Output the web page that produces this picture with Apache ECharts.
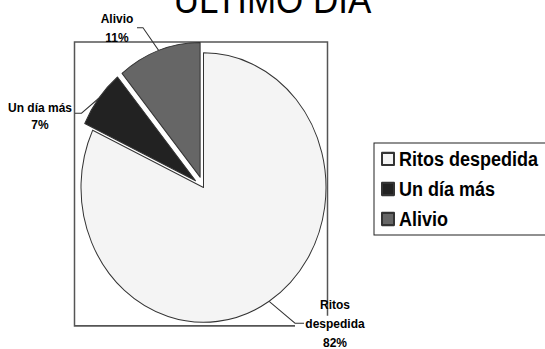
<!DOCTYPE html>
<html><head><meta charset="utf-8">
<script src="https://cdn.jsdelivr.net/npm/echarts@6/dist/echarts.min.js"></script>
<style>
html,body{margin:0;padding:0;background:#fff;overflow:hidden}
#wrap{width:545px;height:349px;overflow:hidden;position:relative;background:#fff}
#c{width:545px;height:317.27px;transform:scaleY(1.1);transform-origin:0 0}
</style></head><body><div id="wrap"><div id="c"></div></div>
<script>
// ---- data ----
const chartTitle = 'ÚLTIMO DÍA';
const categories = ['Ritos despedida', 'Un día más', 'Alivio'];
const labelNames = ['Ritos\ndespedida', 'Un día más', 'Alivio'];
const values = [82, 7, 11];
const exploded = [false, true, true];

// ---- styling / layout ----
const FONT = "'Liberation Sans', Arial, Helvetica, sans-serif";
const sliceColors = ['#f4f4f4', '#222222', '#666666'];
const PIE_CENTER = [203.5, 170.5];
const PIE_RADIUS = 122.5;
const EXPLODE = 10;
const LABEL_LAYOUT = [
  { x: 335, y: 294.5, elbow: [295, 293.9], end: [304, 293.9], lh: 17 },
  { x: 40, y: 105.7, elbow: [81.5, 103], end: [75, 103], lh: 16 },
  { x: 117, y: 25.8, elbow: [143, 25.2], end: [137, 25.2], lh: 16.5 }
];

const chart = echarts.init(document.getElementById('c'), null, { renderer: 'svg' });
chart.setOption({
  animation: false,
  backgroundColor: '#fff',
  title: {
    text: chartTitle, left: 'center', top: -18, padding: 0,
    textStyle: { fontFamily: FONT, fontSize: 35, fontWeight: 'normal', color: '#000' }
  },
  legend: {
    orient: 'vertical', left: 374, top: 130,
    borderColor: '#222', borderWidth: 1, padding: [5.5, 30, 5.5, 7],
    itemWidth: 12, itemHeight: 11, itemGap: 9.3, icon: 'rect',
    textStyle: { fontFamily: FONT, fontSize: 18, fontWeight: 'bold', color: '#000', lineHeight: 18 },
    data: categories
  },
  graphic: [{
    type: 'polyline', z: 0, silent: true,
    shape: { points: [[327.5, 287], [327.5, 38.2], [74.5, 38.2], [74.5, 296.2], [295, 296.2]] },
    style: { stroke: '#555', lineWidth: 1.5, fill: null }
  }],
  series: [{
    type: 'pie', center: PIE_CENTER, radius: PIE_RADIUS, startAngle: 90, clockwise: true,
    selectedMode: 'multiple', selectedOffset: EXPLODE, avoidLabelOverlap: false,
    silent: true,
    itemStyle: { borderColor: '#333', borderWidth: 1 },
    label: {
      show: true, position: 'outside', fontFamily: FONT, fontSize: 12, fontWeight: 'bold',
      color: '#000', align: 'center',
      formatter: p => labelNames[p.dataIndex] + '\n' + p.percent + '%'
    },
    labelLine: { show: true, length: 10, length2: 10, lineStyle: { color: '#333', width: 1 } },
    labelLayout: function (params) {
      const i = params.dataIndex;
      const L = LABEL_LAYOUT[i];
      const r = params.labelRect;
      const pts = params.labelLinePoints;
      let ox = 0, oy = 0;
      if (exploded[i] && pts && pts.length) {
        const vx = pts[0][0] - PIE_CENTER[0], vy = pts[0][1] - PIE_CENTER[1];
        const len = Math.sqrt(vx * vx + vy * vy) || 1;
        ox = EXPLODE * vx / len; oy = EXPLODE * vy / len;
      }
      const anchorX = params.align === 'left' ? r.x
        : params.align === 'right' ? r.x + r.width : r.x + r.width / 2;
      const res = {
        align: 'center',
        dx: L.x - anchorX - ox,
        dy: L.y - (r.y + r.height / 2) - oy
      };
      if (pts && pts.length) {
        res.labelLinePoints = [pts[0],
          [L.elbow[0] - ox, L.elbow[1] - oy],
          [L.end[0] - ox, L.end[1] - oy]];
      }
      return res;
    },
    data: categories.map((n, i) => ({
      name: n, value: values[i], selected: exploded[i],
      itemStyle: { color: sliceColors[i] },
      label: { lineHeight: LABEL_LAYOUT[i].lh },
      select: { itemStyle: { color: sliceColors[i], borderColor: '#333', borderWidth: 1 } }
    }))
  }]
});
</script></body></html>
